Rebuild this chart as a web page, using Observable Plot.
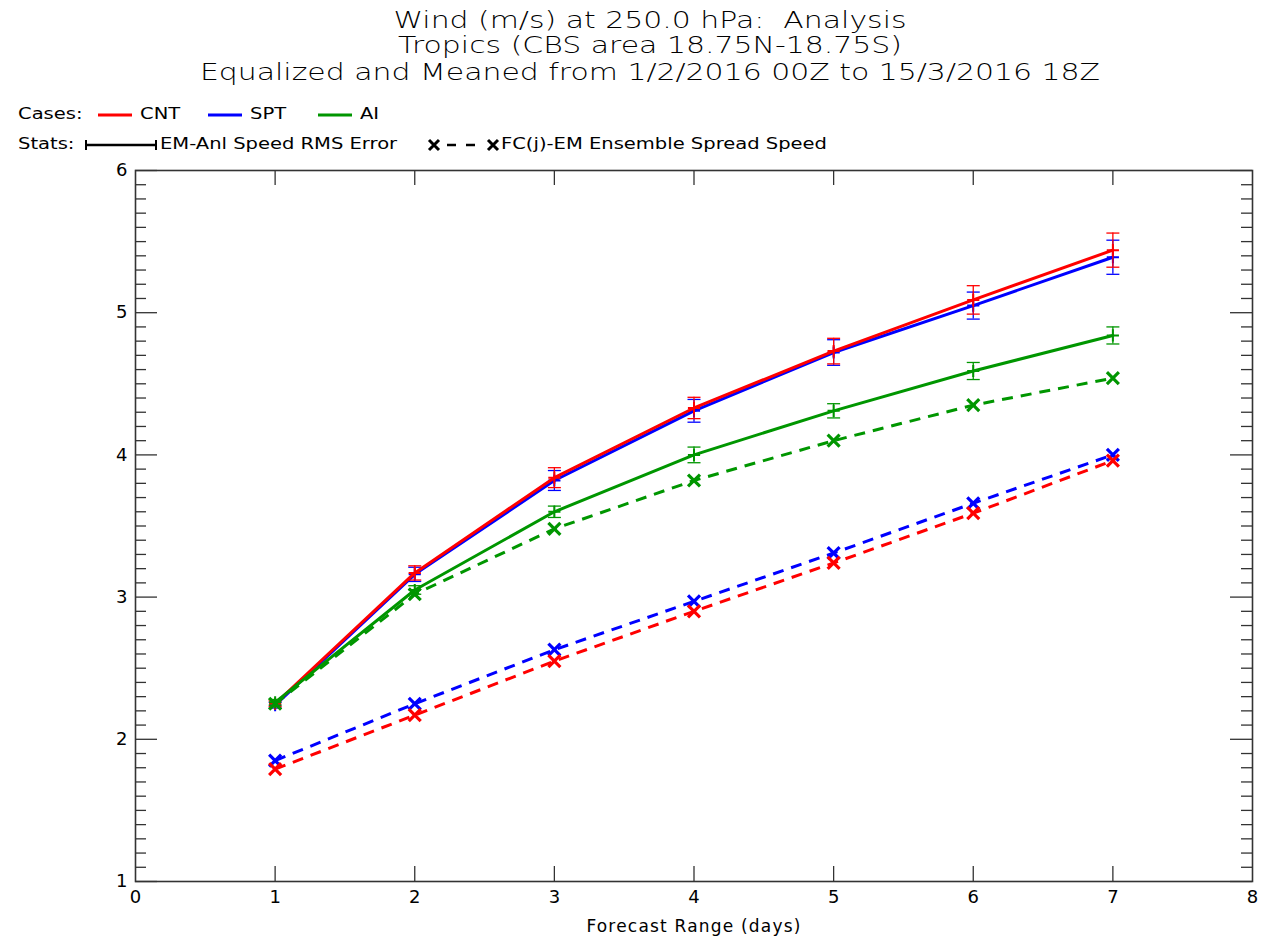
<!DOCTYPE html>
<html>
<head>
<meta charset="utf-8">
<script src="https://cdn.jsdelivr.net/npm/d3@7"></script>
<script src="https://cdn.jsdelivr.net/npm/@observablehq/plot@0.6"></script>
<style>
  html, body { margin: 0; padding: 0; background: #fff; }
  #page { position: relative; width: 1264px; height: 937px; font-family: "DejaVu Sans", sans-serif; color: #000; }
  #header { position: relative; width: 1264px; height: 150px; }
  .title { position: absolute; left: 18px; width: 1264px; text-align: center; font-size: 23px; font-weight: 200; line-height: 24px; white-space: nowrap; transform: scaleX(1.3); transform-origin: 632px 0; }
  .leg { position: absolute; font-size: 16px; line-height: 18px; white-space: nowrap; }
  .leg svg { position: absolute; overflow: visible; }
  .wide { display: inline-block; transform: scaleX(1.22); transform-origin: 0 0; }
  #chart svg { display: block; }
</style>
</head>
<body>
<div id="page">
  <div id="header">
    <div class="title" style="top:8px">Wind (m/s) at 250.0 hPa:&nbsp; Analysis</div>
    <div class="title" style="top:33px">Tropics (CBS area 18.75N-18.75S)</div>
    <div class="title" style="top:60px">Equalized and Meaned from 1/2/2016 00Z to 15/3/2016 18Z</div>
    <div id="legend"></div>
  </div>
  <div id="chart"></div>
</div>
<script>
// Forecast lead times (days)
const days = [1, 2, 3, 4, 5, 6, 7];

// Ensemble-mean vs analysis speed RMS error (m/s)
const cntRms = [2.25, 3.17, 3.84, 4.33, 4.73, 5.09, 5.44];
const sptRms = [2.24, 3.16, 3.82, 4.31, 4.72, 5.05, 5.39];
const aiRms  = [2.26, 3.05, 3.60, 4.00, 4.31, 4.59, 4.84];

// Half-width of the confidence bars on the RMS error
const cntErr = [0.02, 0.05, 0.07, 0.075, 0.09, 0.10, 0.12];
const sptErr = [0.02, 0.05, 0.07, 0.08, 0.09, 0.095, 0.12];
const aiErr  = [0.02, 0.03, 0.04, 0.055, 0.05, 0.06, 0.06];

// Ensemble spread of speed, FC(j) - EM (m/s)
const cntSpread = [1.79, 2.17, 2.55, 2.90, 3.24, 3.59, 3.96];
const sptSpread = [1.85, 2.25, 2.63, 2.97, 3.31, 3.66, 4.00];
const aiSpread  = [2.25, 3.02, 3.48, 3.82, 4.10, 4.35, 4.54];

// Case names and colours
const caseNames  = ["CNT", "SPT", "AI"];
const caseColors = ["#ff0000", "#0000ff", "#009600"];

// Axis ticks
const xTicks = [0, 1, 2, 3, 4, 5, 6, 7, 8];
const xInnerTicks = [1, 2, 3, 4, 5, 6, 7];
const yTicks = [1, 2, 3, 4, 5, 6];
const yMinorTicks = d3.range(11, 60).filter(t => t % 10 !== 0).map(t => t / 10);

const series = [
  {name: "CNT", color: caseColors[0], rms: cntRms, err: cntErr, spread: cntSpread},
  {name: "SPT", color: caseColors[1], rms: sptRms, err: sptErr, spread: sptSpread},
  {name: "AI",  color: caseColors[2], rms: aiRms,  err: aiErr,  spread: aiSpread}
];

// Draw order: SPT underneath, then CNT, then AI on top
const drawOrder = [series[1], series[0], series[2]];

const W = 1264, H = 787;
const mL = 135, mR = 12, mT = 20, mB = 56;
const plotW = W - mL - mR, plotH = H - mT - mB;

// Horizontal cap used for the error bars
const capSymbol = {
  draw(ctx, size) {
    const r = Math.sqrt(size / Math.PI);
    ctx.moveTo(-r, 0);
    ctx.lineTo(r, 0);
  }
};

const marks = [];
for (const s of drawOrder) {
  const rms = days.map((d, i) => ({day: d, value: s.rms[i], err: s.err[i]}));
  const spr = days.map((d, i) => ({day: d, value: s.spread[i]}));
  marks.push(
    Plot.line(spr, {x: "day", y: "value", stroke: s.color, strokeWidth: 3, strokeDasharray: "11,8", strokeLinecap: "butt"}),
    Plot.dot(spr, {x: "day", y: "value", symbol: "times", r: 5.5, stroke: s.color, strokeWidth: 3.2}),
    Plot.line(rms, {x: "day", y: "value", stroke: s.color, strokeWidth: 3}),
    Plot.ruleX(rms, {x: "day", y1: d => d.value - d.err, y2: d => d.value + d.err, stroke: s.color, strokeWidth: 1.3}),
    Plot.dot(rms, {x: "day", y: d => d.value + d.err, symbol: capSymbol, r: 6.5, stroke: s.color, strokeWidth: 1.3}),
    Plot.dot(rms, {x: "day", y: d => d.value - d.err, symbol: capSymbol, r: 6.5, stroke: s.color, strokeWidth: 1.3}),
    Plot.dot(rms, {x: "day", y: "value", symbol: "plus", r: 4, stroke: s.color, strokeWidth: 2})
  );
}

const chart = Plot.plot({
  width: W,
  height: H,
  marginLeft: mL,
  marginRight: mR,
  marginTop: mT,
  marginBottom: mB,
  style: {fontFamily: "DejaVu Sans, sans-serif", background: "#fff", color: "#000"},
  x: {domain: [0, 8]},
  y: {domain: [1, 6]},
  marks: [
    // inward ticks on all four sides
    Plot.tickY(yTicks, {y: d => d, insetRight: plotW - 22, stroke: "#333", strokeWidth: 1.3}),
    Plot.tickY(yMinorTicks, {y: d => d, insetRight: plotW - 11, stroke: "#333", strokeWidth: 1.3}),
    Plot.tickY(yTicks, {y: d => d, insetLeft: plotW - 22, stroke: "#333", strokeWidth: 1.3}),
    Plot.tickY(yMinorTicks, {y: d => d, insetLeft: plotW - 11, stroke: "#333", strokeWidth: 1.3}),
    Plot.tickX(xInnerTicks, {x: d => d, insetTop: plotH - 15, stroke: "#333", strokeWidth: 1.3}),
    Plot.tickX(xInnerTicks, {x: d => d, insetBottom: plotH - 15, stroke: "#333", strokeWidth: 1.3}),
    Plot.axisX({ticks: xTicks, tickFormat: "d", tickSize: 0, tickPadding: 9, fontSize: 18, label: "Forecast Range (days)", labelAnchor: "center", labelArrow: "none", labelOffset: 50}),
    Plot.axisY({ticks: yTicks, tickFormat: "d", tickSize: 0, tickPadding: 8, fontSize: 18, label: null}),
    ...marks,
    Plot.frame({stroke: "#333", strokeWidth: 1.6})
  ]
});
chart.querySelectorAll("g[aria-label='x-axis label'] text").forEach(t => {
  t.setAttribute("font-size", "17");
  t.setAttribute("letter-spacing", "1.2");
});
document.getElementById("chart").appendChild(chart);

// Legend: case colours and the two statistics
const legend = document.getElementById("legend");
function legItem(x, y, html) {
  const el = document.createElement("div");
  el.className = "leg";
  el.style.left = x + "px";
  el.style.top = (y - 9) + "px";
  el.innerHTML = html;
  legend.appendChild(el);
  return el;
}
legItem(18, 114, "<span class='wide'>Cases:</span>");
const caseX = [98, 208, 318];
caseNames.forEach((n, i) => {
  legItem(caseX[i], 114,
    `<svg width="34" height="18" style="left:0;top:0"><line x1="0" x2="34" y1="10" y2="10" stroke="${caseColors[i]}" stroke-width="3"/></svg>` +
    `<span class="wide" style="position:absolute;left:42px">${n}</span>`);
});
legItem(18, 144, "<span class='wide'>Stats:</span>");
legItem(85, 144,
  `<svg width="72" height="18" style="left:0;top:0">
     <line x1="1" x2="71" y1="10" y2="10" stroke="#000" stroke-width="2.5"/>
     <line x1="1" x2="1" y1="5" y2="15" stroke="#000" stroke-width="2"/>
     <line x1="71" x2="71" y1="5" y2="15" stroke="#000" stroke-width="2"/>
   </svg><span class="wide" style="position:absolute;left:75px">EM-Anl Speed RMS Error</span>`);
legItem(428, 144,
  `<svg width="72" height="18" style="left:0;top:0">
     <path d="M1,5L11,15M11,5L1,15" stroke="#000" stroke-width="3"/>
     <path d="M60,5L70,15M70,5L60,15" stroke="#000" stroke-width="3"/>
     <line x1="19" x2="28" y1="10" y2="10" stroke="#000" stroke-width="2.5"/>
     <line x1="38" x2="47" y1="10" y2="10" stroke="#000" stroke-width="2.5"/>
   </svg><span class="wide" style="position:absolute;left:73px">FC(j)-EM Ensemble Spread Speed</span>`);
</script>
</body>
</html>
